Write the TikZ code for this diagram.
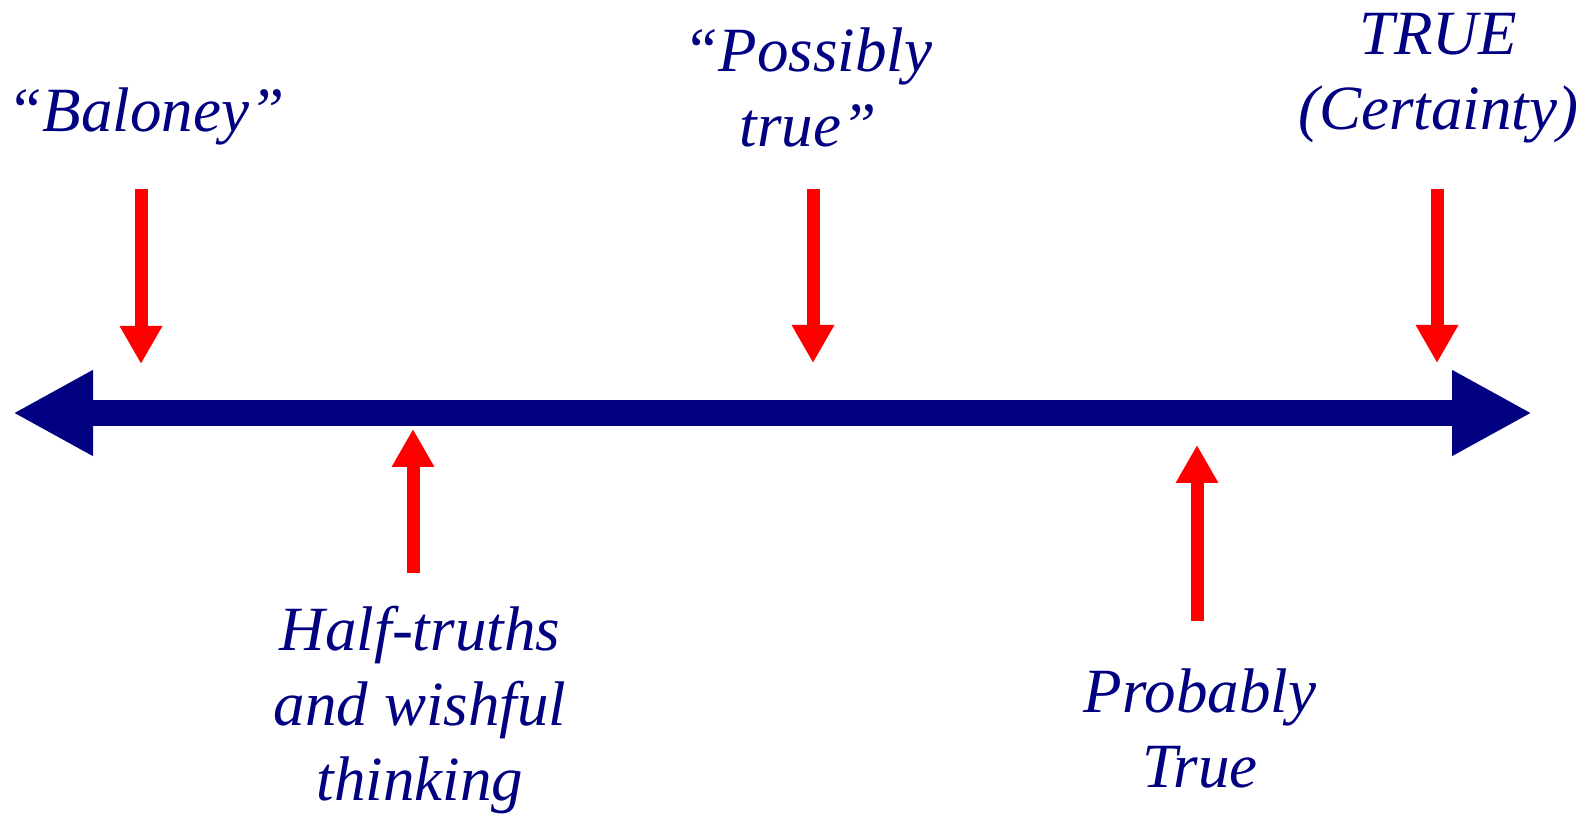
\documentclass[tikz,border=0pt]{standalone}
\usepackage{fontspec}
\setmainfont{Liberation Serif}
\usetikzlibrary{arrows.meta}
\definecolor{navy}{RGB}{0,0,128}
\tikzset{
  lbl/.style={text=navy, align=center, anchor=base, inner sep=0pt,
    font=\fontsize{31.5}{37.5}\selectfont\itshape},
  pointer/.style={draw=red, line width=6.5pt,
    -{Triangle[length=19pt,width=20pt]}},
  axisline/.style={draw=navy, line width=13pt,
    {Triangle[length=40pt,width=40pt]}-{Triangle[length=40pt,width=40pt]}}
}
\begin{document}
\begin{tikzpicture}[x=0.5pt,y=-0.5pt]
\useasboundingbox (0,0) rectangle (1595,817);
% the scale
\coordinate (lft) at (13,413);
\coordinate (rgt) at (1532,413);
\draw[axisline] (lft) -- (rgt);
% labels above (anchored at the last line)
\node[lbl] (bal) at (146,132) {``Baloney''};
\node[lbl] (pos) at (808,147) {``Possibly\\ true''};
\node[lbl] (tru) at (1438,130) {TRUE\\ (Certainty)};
% labels below
\node[lbl] (half) at (420,800) {Half-truths\\ and wishful\\ thinking};
\node[lbl] (prob) at (1200,787) {Probably\\ True};
% pointers
\foreach \n/\x/\a/\b in {bal/141/189/364, pos/813/189/363, tru/1437/189/363,
                         half/413/573/429, prob/1197/621/445} {
  \coordinate (\n-from) at (\x,\a);
  \coordinate (\n-to) at (\x,\b);
  \draw[pointer] (\n-from) -- (\n-to);
}
\end{tikzpicture}
\end{document}
